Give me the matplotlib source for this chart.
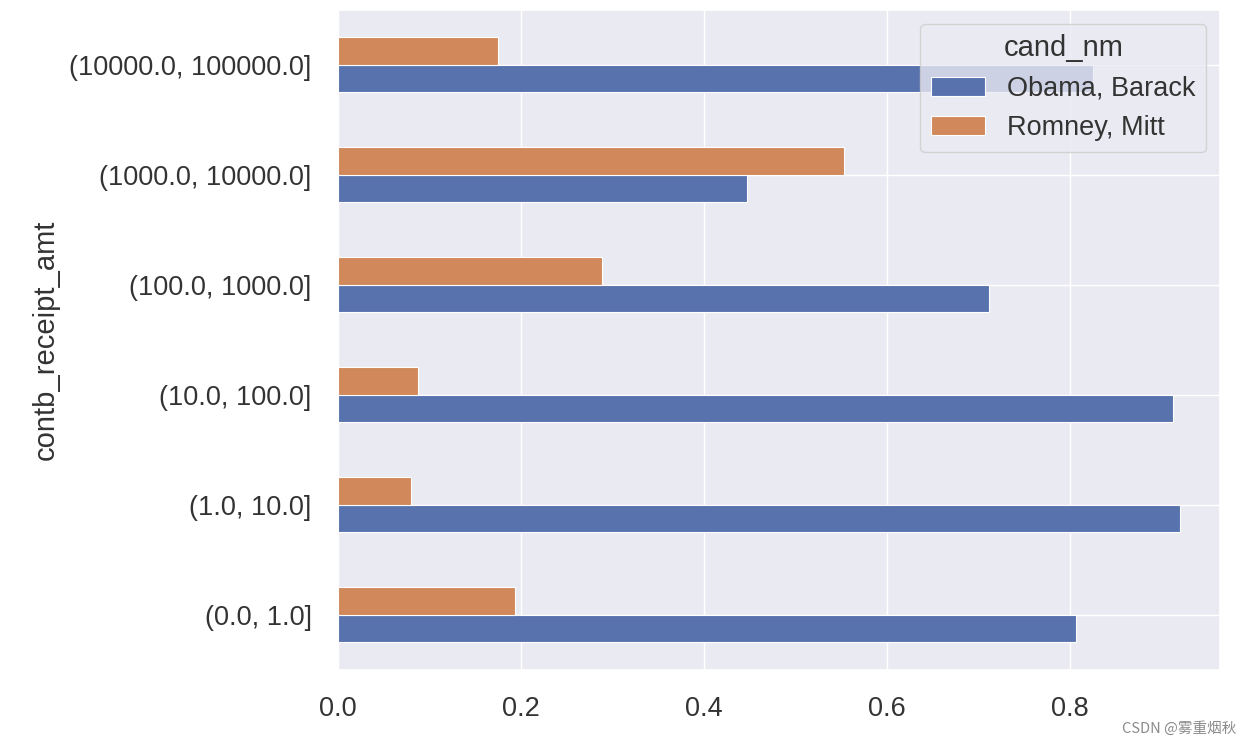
import numpy as np
import matplotlib as mpl
mpl.use('Agg')
import matplotlib.pyplot as plt
import seaborn as sns

# share of contributions per bucket (normalized)
buckets = ['(0.0, 1.0]', '(1.0, 10.0]', '(10.0, 100.0]', '(100.0, 1000.0]',
           '(1000.0, 10000.0]', '(10000.0, 100000.0]']
obama = [0.807, 0.920, 0.913, 0.711, 0.447, 0.825]
romney = [0.193, 0.080, 0.087, 0.289, 0.553, 0.175]
candidates = ['Obama, Barack', 'Romney, Mitt']
xticks = [0.0, 0.2, 0.4, 0.6, 0.8]

sns.set_theme(style='darkgrid')
plt.rcParams['font.family'] = ['Liberation Sans', 'DejaVu Sans']

fig = plt.figure(figsize=(12.5, 7.46), dpi=100)
ax = fig.add_axes([0.2704, 0.1019, 0.7056, 0.8847])

blue, orange = '#5872ae', '#d1895b'
y = np.arange(len(buckets))
h = 0.25
ax.barh(y - h / 2, obama, height=h, color=blue, label=candidates[0], edgecolor='white', linewidth=0.8)
ax.barh(y + h / 2, romney, height=h, color=orange, label=candidates[1], edgecolor='white', linewidth=0.8)

ax.set_ylim(-0.5, len(buckets) - 0.5)
ax.set_xlim(0, 0.964)
ax.set_xticks(xticks)
ax.set_xticklabels(['%.1f' % v for v in xticks], fontsize=19.5)
ax.set_yticks(y)
ax.set_yticklabels(buckets, fontsize=19.5)
ax.tick_params(axis='x', colors='#333333', pad=13)
ax.tick_params(axis='y', colors='#333333', pad=13)
ax.set_ylabel('contb_receipt_amt', fontsize=21, color='#333333', labelpad=7)

leg = ax.legend(title='cand_nm', loc='upper right', fontsize=19.5, title_fontsize=21,
                borderaxespad=0.5)
for t in leg.get_texts():
    t.set_color('#333333')
leg.get_title().set_color('#333333')

fig.text(0.989, 0.024, 'CSDN @雾重烟秋', ha='right', va='center', fontsize=10.5, color='#8a8a8a',
         family=['Noto Sans CJK SC', 'DejaVu Sans'])

plt.savefig('out.png', dpi=100)
